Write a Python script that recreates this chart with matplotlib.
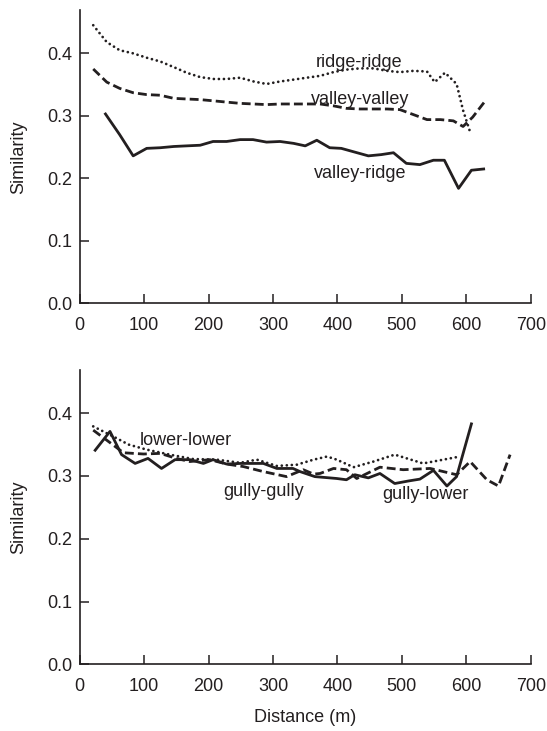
import matplotlib
matplotlib.use("Agg")
import matplotlib.pyplot as plt

plt.rcParams['font.family'] = ['Liberation Sans', 'DejaVu Sans']

# ---- Top panel data ----
rr_d = [21, 42, 62, 83, 104, 125, 146, 166, 187, 208, 228, 249, 270, 290, 311, 332, 352, 373,
        394, 414, 435, 456, 477, 497, 518, 539, 551, 567, 585, 595, 606]
rr_v = [0.445, 0.418, 0.405, 0.400, 0.393, 0.387, 0.378, 0.369, 0.362, 0.359, 0.359, 0.361, 0.355,
        0.351, 0.355, 0.358, 0.361, 0.364, 0.370, 0.374, 0.376, 0.376, 0.372, 0.370, 0.372, 0.371,
        0.354, 0.369, 0.351, 0.309, 0.274]

vv_d = [21, 42, 62, 83, 104, 125, 146, 166, 187, 208, 228, 249, 270, 290, 311, 332, 352, 373,
        394, 414, 435, 456, 477, 497, 518, 539, 560, 580, 595, 610, 628]
vv_v = [0.375, 0.354, 0.344, 0.337, 0.334, 0.333, 0.328, 0.327, 0.326, 0.324, 0.322, 0.320, 0.319,
        0.318, 0.319, 0.319, 0.319, 0.319, 0.316, 0.312, 0.311, 0.311, 0.311, 0.310, 0.302, 0.294,
        0.294, 0.292, 0.283, 0.298, 0.322]

vr_d = [40, 62, 83, 104, 125, 146, 166, 187, 207, 228, 249, 269, 290, 311, 332, 350, 368, 388,
        406, 427, 448, 468, 487, 507, 528, 549, 566, 588, 608, 627]
vr_v = [0.303, 0.270, 0.236, 0.248, 0.249, 0.251, 0.252, 0.253, 0.259, 0.259, 0.262, 0.262, 0.258,
        0.259, 0.256, 0.252, 0.261, 0.249, 0.248, 0.242, 0.236, 0.238, 0.241, 0.224, 0.222, 0.229,
        0.229, 0.184, 0.213, 0.215]

# ---- Bottom panel data ----
gl_d = [24, 47, 65, 86, 106, 127, 148, 171, 192, 207, 228, 250, 285, 306, 331, 342, 365, 399,
        414, 427, 448, 466, 489, 510, 528, 549, 570, 585, 608]
gl_v = [0.341, 0.371, 0.334, 0.320, 0.328, 0.312, 0.326, 0.326, 0.320, 0.326, 0.319, 0.320, 0.320,
        0.312, 0.312, 0.307, 0.299, 0.296, 0.294, 0.302, 0.297, 0.304, 0.288, 0.292, 0.295, 0.309,
        0.284, 0.299, 0.383]

gg_d = [21, 42, 68, 99, 125, 150, 171, 202, 228, 254, 285, 321, 347, 363, 373, 394, 414, 430,
        466, 502, 544, 585, 606, 632, 650, 668]
gg_v = [0.373, 0.357, 0.337, 0.335, 0.336, 0.328, 0.323, 0.326, 0.319, 0.315, 0.307, 0.299, 0.310,
        0.303, 0.304, 0.312, 0.310, 0.296, 0.314, 0.310, 0.312, 0.302, 0.323, 0.294, 0.284, 0.334]

ll_d = [21, 52, 76, 104, 140, 176, 213, 249, 275, 306, 337, 363, 384, 399, 425, 456, 489, 533, 585]
ll_v = [0.379, 0.363, 0.350, 0.342, 0.334, 0.327, 0.326, 0.321, 0.326, 0.316, 0.318, 0.326, 0.331,
        0.326, 0.314, 0.323, 0.334, 0.320, 0.330]

x_ticks = [0, 100, 200, 300, 400, 500, 600, 700]
y_ticks = [0.0, 0.1, 0.2, 0.3, 0.4]

C = '#231f20'
FS = 13

fig = plt.figure(figsize=(5.47, 7.31), dpi=100)
ax1 = fig.add_axes([0.1457, 0.585, 0.8245, 0.401])
ax2 = fig.add_axes([0.1457, 0.0912, 0.8245, 0.4028])

dotted = dict(color=C, lw=2.0, linestyle=(0, (0.01, 1.8)), dash_capstyle='round')
dashed = dict(color=C, lw=2.0, linestyle=(0, (3.2, 1.5)))
solid = dict(color=C, lw=2.0, linestyle='-')

ax1.plot(rr_d, rr_v, **dotted)
ax1.plot(vv_d, vv_v, **dashed)
ax1.plot(vr_d, vr_v, **solid)
ax1.text(434, 0.386, 'ridge-ridge', fontsize=FS, color=C, ha='center', va='center')
ax1.text(435, 0.326, 'valley-valley', fontsize=FS, color=C, ha='center', va='center')
ax1.text(435, 0.207, 'valley-ridge', fontsize=FS, color=C, ha='center', va='center')

ax2.plot(ll_d, ll_v, **dotted)
ax2.plot(gg_d, gg_v, **dashed)
ax2.plot(gl_d, gl_v, **solid)
ax2.text(165, 0.356, 'lower-lower', fontsize=FS, color=C, ha='center', va='center')
ax2.text(286, 0.276, 'gully-gully', fontsize=FS, color=C, ha='center', va='center')
ax2.text(536, 0.270, 'gully-lower', fontsize=FS, color=C, ha='center', va='center')

for ax in (ax1, ax2):
    ax.set_xlim(0, 700)
    ax.set_ylim(0, 0.469)
    ax.set_xticks(x_ticks)
    ax.set_yticks(y_ticks)
    ax.set_yticklabels([f'{v:.1f}' for v in y_ticks])
    ax.spines['top'].set_visible(False)
    ax.spines['right'].set_visible(False)
    for s in ('left', 'bottom'):
        ax.spines[s].set_linewidth(1.2)
        ax.spines[s].set_color(C)
    ax.tick_params(direction='in', length=6.5, width=1.1, colors=C, labelsize=FS)
    ax.tick_params(axis='x', pad=10)
    ax.tick_params(axis='y', pad=5.5)
    ax.set_ylabel('Similarity', fontsize=FS, color=C)
    ax.yaxis.set_label_coords(-0.117, 0.5)

ax2.set_xlabel('Distance (m)', fontsize=FS, color=C)
ax2.xaxis.set_label_coords(0.5, -0.152)

fig.savefig('out.png', dpi=100)
